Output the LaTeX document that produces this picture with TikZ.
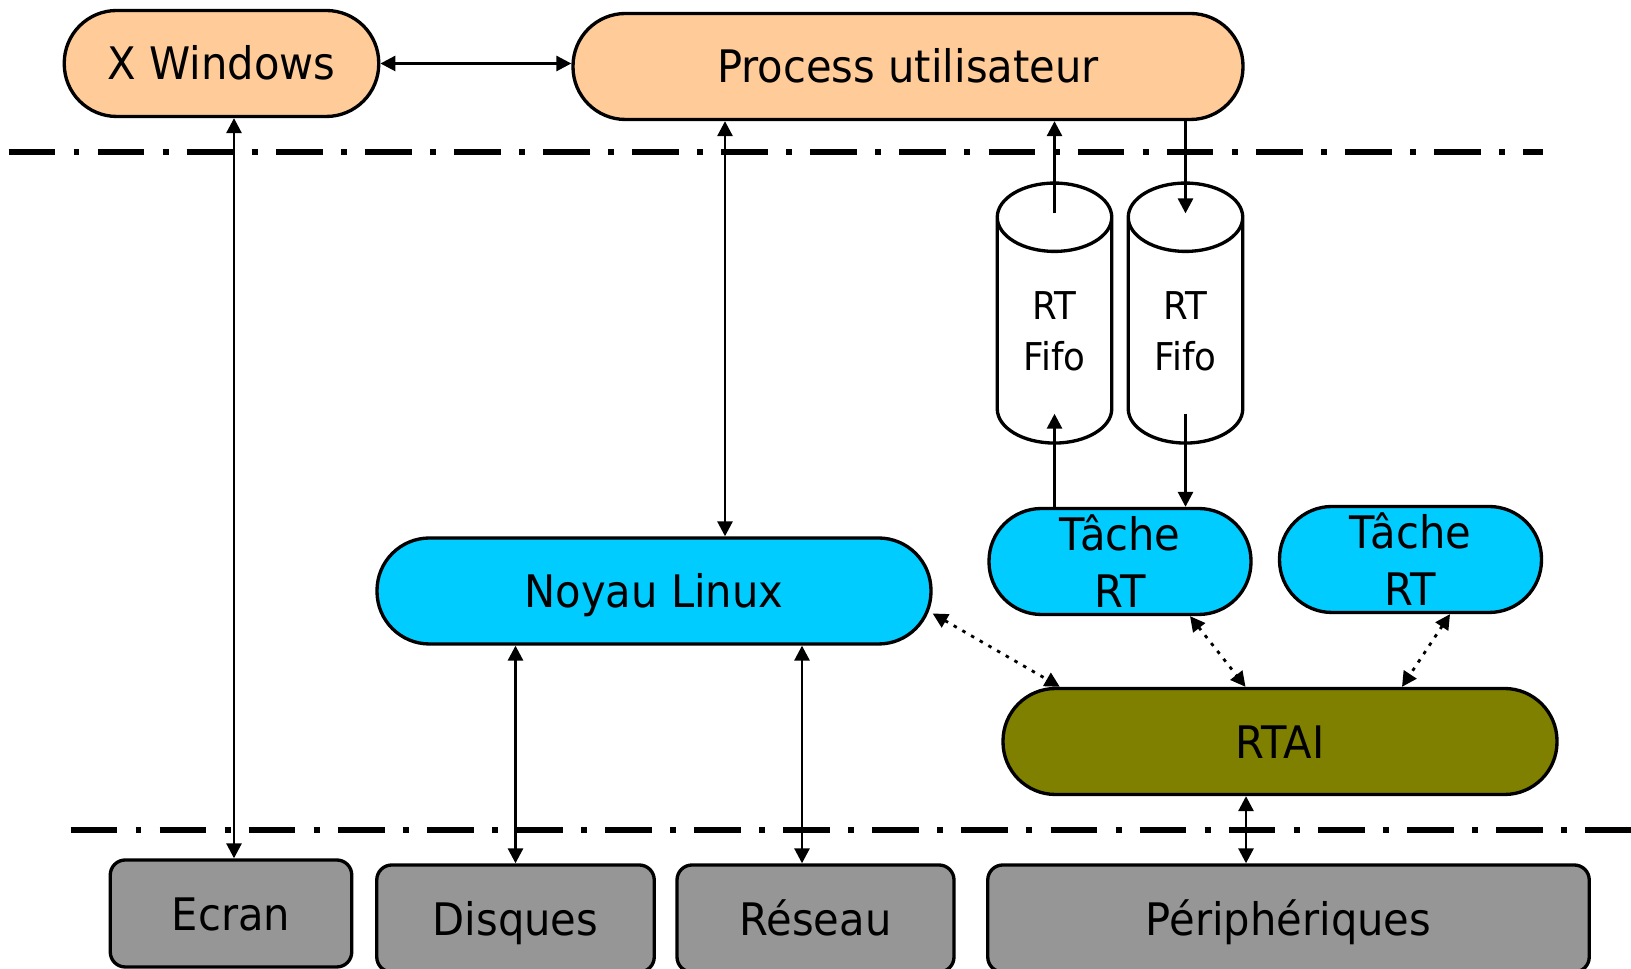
\documentclass[tikz,border=0pt]{standalone}
\usepackage{fontspec}
\setmainfont[FakeStretch=0.93]{DejaVu Sans}
\usetikzlibrary{arrows.meta,shapes.geometric}

\definecolor{userpeach}{HTML}{FFCC99}
\definecolor{kernelcyan}{HTML}{00CCFF}
\definecolor{rtaiolive}{HTML}{808000}
\definecolor{devgrey}{HTML}{969696}

\begin{document}
\begin{tikzpicture}[every node/.style={font=\fontsize{25.5}{32.4}\selectfont, inner sep=0pt},
	pill/.style={draw=black, line width=1.9pt, rounded corners=1.05cm, minimum height=2.12cm, align=center},
	oneline/.style={text height=18.8pt, text depth=0pt},
	user/.style={pill, oneline, fill=userpeach},
	kern/.style={pill, fill=kernelcyan},
	hal/.style={pill, oneline, fill=rtaiolive},
	dev/.style={draw=black, line width=1.9pt, oneline, fill=devgrey, rounded corners=0.3cm, minimum height=2.14cm},
	fifo/.style={cylinder, shape border rotate=90, aspect=1.1, draw=black, fill=white, line width=1.9pt, minimum width=2.29cm, minimum height=5.2cm, align=center, font=\fontsize{21.8}{29}\selectfont}]
	
	\tikzset{edge/.style = {<->, >={Triangle[length=8.5pt,width=8.5pt]}, line width=1.6pt}}
	\tikzset{link/.style = {edge, dash pattern=on 2pt off 3.7pt}}
	\tikzset{layer/.style = {line width=3.4pt, dash pattern=on 26.6pt off 10.4pt on 3.4pt off 10.3pt}}
	
	\useasboundingbox (0,0) rectangle (32.62,19.38);
	
	% layers
	\coordinate (topl) at (0.17,16.34);
	\coordinate (topr) at (30.86,16.34);
	\coordinate (botl) at (1.41,2.78);
	\coordinate (botr) at (32.62,2.78);
	\draw[layer] (topl) -- (topr);
	\draw[layer] (botl) -- (botr);
	
	\node[user, minimum width=6.29cm] (xwin)  at (4.43,18.11)  {X Windows};
	\node[user, minimum width=13.4cm] (proc)  at (18.16,18.05) {Process utilisateur};
	
	\node[fifo] (fifo1) at (21.09,12.76) {RT\\Fifo};
	\node[fifo] (fifo2) at (23.71,12.76) {RT\\Fifo};
	
	\node[kern, oneline, minimum width=11.08cm] (noyau)  at (13.08,7.56) {Noyau Linux};
	\node[kern, minimum width=5.24cm] (tache1) at (22.40,8.15) {Tâche\\RT};
	\node[kern, minimum width=5.24cm] (tache2) at (28.21,8.19) {Tâche\\RT};
	\node[hal, minimum width=11.08cm] (rtai)   at (25.6,4.55)  {RTAI};
	
	\node[dev, minimum width=4.83cm]  (ecran)   at (4.62,1.11)  {Ecran};
	\node[dev, minimum width=5.55cm]  (disques) at (10.31,1.01) {Disques};
	\node[dev, minimum width=5.54cm]  (reseau)  at (16.31,1.01) {Réseau};
	\node[dev, minimum width=12.03cm] (periph)  at (25.77,1.01) {Périphériques};
	
	\draw[edge] (xwin.east) -- (xwin.east -| proc.west);
	\draw[edge] ([xshift=0.06cm]ecran.north) -- ([xshift=0.06cm]ecran.north |- xwin.south);
	\draw[edge] ([xshift=1.42cm]noyau.north) -- ([xshift=1.42cm]noyau.north |- proc.south);
	\draw[edge] (disques.north) -- (disques.north |- noyau.south);
	\draw[edge] ([xshift=-0.27cm]reseau.north) -- ([xshift=-0.27cm]reseau.north |- noyau.south);
	\draw[edge] ([xshift=-0.85cm]periph.north) -- ([xshift=-0.85cm]periph.north |- rtai.south);
	
	\draw[edge, ->] ([yshift=-0.64cm]fifo1.north) -- (fifo1.north |- proc.south);
	\draw[edge, ->] (fifo1.south |- tache1.north) -- ([yshift=0.62cm]fifo1.south);
	\draw[edge, ->] (fifo2.north |- proc.south) -- ([yshift=-0.64cm]fifo2.north);
	\draw[edge, ->] ([yshift=0.62cm]fifo2.south) -- (fifo2.south |- tache1.north);
	
	\draw[link] ([yshift=-0.45cm]noyau.east) -- ([xshift=1.17cm]rtai.north west);
	\draw[link] ([xshift=1.4cm]tache1.south) -- ([xshift=-0.69cm]rtai.north);
	\draw[link] ([xshift=0.79cm]tache2.south) -- ([xshift=2.44cm]rtai.north);
	
\end{tikzpicture}
\end{document}
